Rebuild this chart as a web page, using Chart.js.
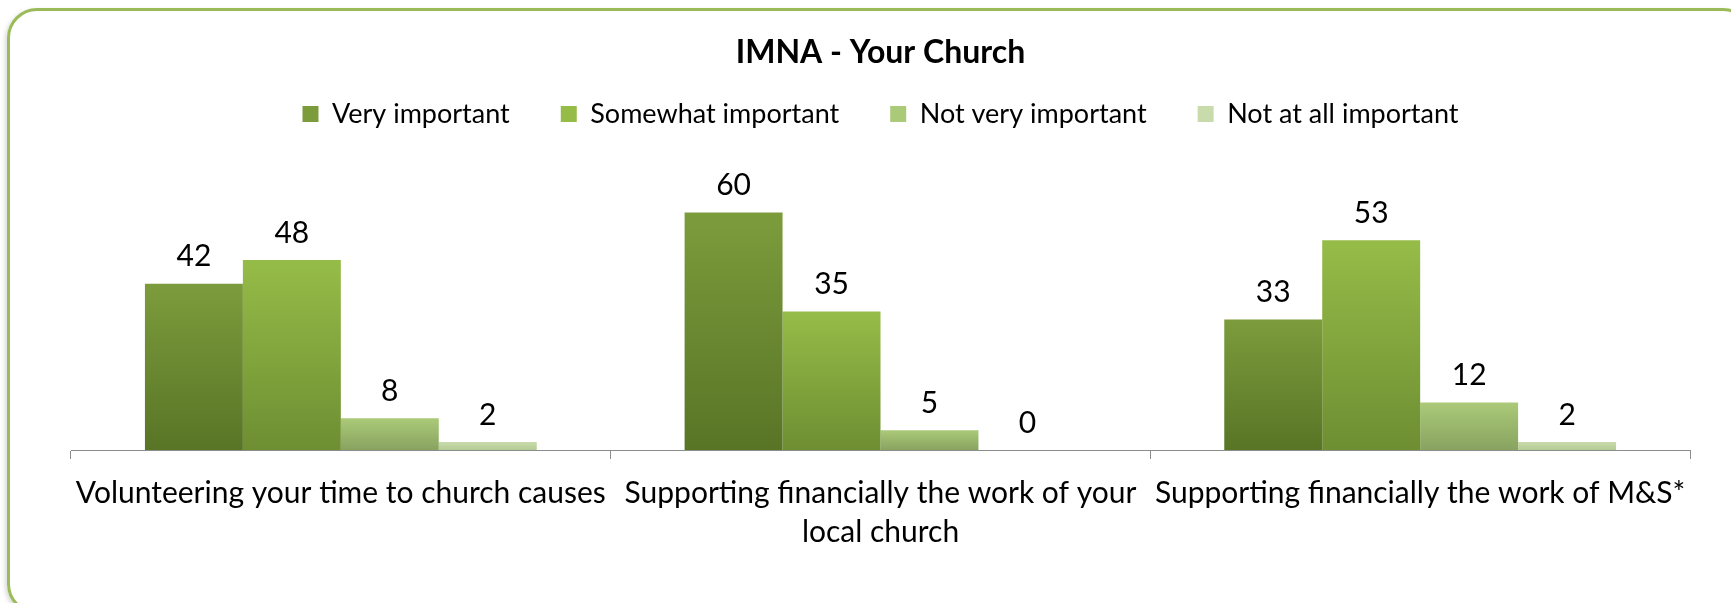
<!DOCTYPE html>
<html>
<head>
<meta charset="utf-8">
<script src="https://cdn.jsdelivr.net/npm/chart.js@4"></script>
<style>
  html, body { margin: 0; padding: 0; background: #fff; overflow: hidden; }
  #frame {
    position: absolute; left: 7px; top: 8px; width: 1740px; height: 600px;
    border: 3px solid #9BBB59; border-radius: 30px;
    box-shadow: -2px 2px 4px rgba(0,0,0,0.15);
    pointer-events: none;
  }
  #chart { position: absolute; left: 9px; top: 11px; }
</style>
</head>
<body>
<div id="frame"></div>
<canvas id="chart" width="1740" height="592"></canvas>
<script>
  var categories = [
    'Volunteering your time to church causes',
    ['Supporting financially the work of your', 'local church'],
    'Supporting financially the work of M&S*'
  ];
  var seriesNames = ['Very important', 'Somewhat important', 'Not very important', 'Not at all important'];
  var veryImportant = [42, 60, 33];
  var somewhatImportant = [48, 35, 53];
  var notVeryImportant = [8, 5, 12];
  var notAtAllImportant = [2, 0, 2];

  // colori: [alto, basso] per ogni serie
  var colours = [
    ['#7C9C3C', '#587526'],
    ['#96BC48', '#6E8E32'],
    ['#ABCA78', '#88A360'],
    ['#C8DCAB', '#B4CB94']
  ];

  function barGradient(i) {
    return function(ctx) {
      var chart = ctx.chart;
      if (!chart.chartArea || ctx.type !== 'data') return colours[i][0];
      var y = chart.scales.y;
      var top = y.getPixelForValue(ctx.raw);
      var base = y.getPixelForValue(0);
      if (base - top < 1) return colours[i][0];
      var g = chart.ctx.createLinearGradient(0, top, 0, base);
      g.addColorStop(0, colours[i][0]);
      g.addColorStop(1, colours[i][1]);
      return g;
    };
  }

  var valueLabels = {
    id: 'valueLabels',
    afterDatasetsDraw: function(chart) {
      var c = chart.ctx;
      c.save();
      c.font = '30px Lato';
      c.fillStyle = '#000';
      c.textAlign = 'center';
      c.textBaseline = 'middle';
      chart.data.datasets.forEach(function(ds, i) {
        chart.getDatasetMeta(i).data.forEach(function(bar, j) {
          c.fillText(ds.data[j], bar.x, bar.y - 27);
        });
      });
      c.restore();
    }
  };

  var allSeries = [veryImportant, somewhatImportant, notVeryImportant, notAtAllImportant];

  new Chart(document.getElementById('chart'), {
    type: 'bar',
    data: {
      labels: categories,
      datasets: allSeries.map(function(values, i) {
        return {
          label: seriesNames[i],
          data: values,
          backgroundColor: barGradient(i),
          borderWidth: 0,
          categoryPercentage: 0.726,
          barPercentage: 1.0
        };
      })
    },
    options: {
      responsive: false,
      animation: false,
      layout: { padding: { left: 62, right: 59, top: 0, bottom: 36 } },
      plugins: {
        title: {
          display: true,
          text: 'IMNA - Your Church',
          color: '#000',
          font: { family: 'Lato', size: 32, weight: 'bold' },
          padding: { top: 22, bottom: -22 }
        },
        legend: {
          position: 'top',
          labels: {
            color: '#000',
            font: { family: 'Lato', size: 27 },
            boxWidth: 16,
            boxHeight: 16,
            padding: 51
          }
        },
        tooltip: { enabled: false }
      },
      scales: {
        x: {
          grid: { offset: true, drawOnChartArea: false, tickLength: 9, color: '#8C8C8C' },
          border: { display: true, color: '#8C8C8C', width: 1 },
          ticks: { color: '#000', font: { family: 'Lato', size: 30, lineHeight: 1.3 }, padding: 15, maxRotation: 0, autoSkip: false }
        },
        y: {
          display: false,
          min: 0,
          max: 79
        }
      }
    },
    plugins: [valueLabels]
  });
</script>
</body>
</html>
